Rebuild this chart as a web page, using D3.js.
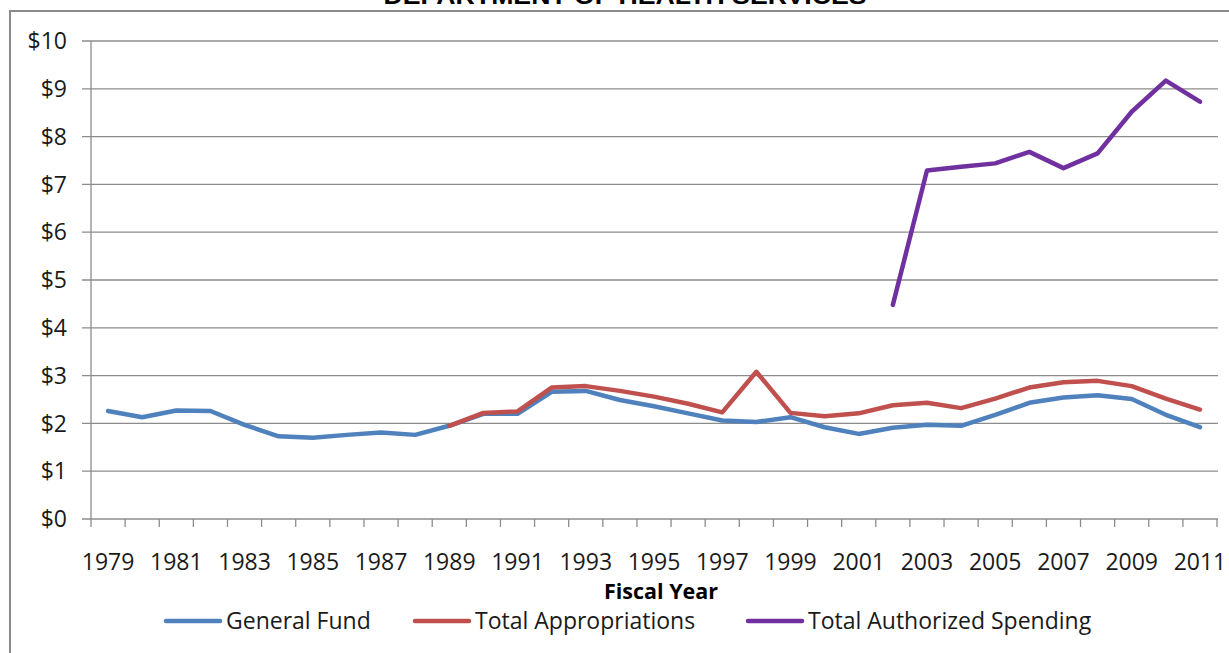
<!DOCTYPE html>
<html>
<head>
<meta charset="utf-8">
<script src="https://cdn.jsdelivr.net/npm/d3@7"></script>
<style>
  html, body { margin: 0; padding: 0; background: #fff; }
  svg { display: block; }
</style>
</head>
<body>
<svg id="chart" width="1229" height="653"></svg>
<script>
const years = d3.range(1979, 2012).map(String);
const xLabels = ["1979","1981","1983","1985","1987","1989","1991","1993","1995","1997","1999","2001","2003","2005","2007","2009","2011"];
const yTicks = [0,1,2,3,4,5,6,7,8,9,10];

const generalFund = [2.26,2.13,2.27,2.26,1.97,1.73,1.70,1.76,1.81,1.76,1.95,2.20,2.20,2.66,2.68,2.49,2.36,2.21,2.06,2.03,2.13,1.92,1.78,1.91,1.97,1.95,2.18,2.43,2.54,2.59,2.51,2.18,1.92];
const totalAppropriations = [null,null,null,null,null,null,null,null,null,null,1.95,2.22,2.25,2.75,2.78,2.68,2.56,2.41,2.23,3.08,2.22,2.15,2.21,2.38,2.43,2.32,2.52,2.75,2.86,2.89,2.78,2.52,2.29];
const totalAuthorized = [null,null,null,null,null,null,null,null,null,null,null,null,null,null,null,null,null,null,null,null,null,null,null,4.48,7.29,7.37,7.44,7.68,7.34,7.65,8.52,9.17,8.73];

const seriesNames = ["General Fund","Total Appropriations","Total Authorized Spending"];
const seriesColors = ["#4F81BD","#C0504D","#7030A0"];
const seriesValues = [generalFund, totalAppropriations, totalAuthorized];

const svg = d3.select("#chart");
const font = "'Open Sans', sans-serif";

// outer border
svg.append("rect").attr("x",10).attr("y",11).attr("width",1240).attr("height",660)
  .attr("fill","none").attr("stroke","#8a8a8a").attr("stroke-width",2);

// title (clipped by the top edge, as in the reference)
svg.append("text").attr("x",625).attr("y",4).attr("text-anchor","middle")
  .attr("font-family","'Liberation Sans', Arial, sans-serif").attr("font-weight","bold")
  .attr("font-size",23).attr("textLength",483).attr("lengthAdjust","spacingAndGlyphs")
  .attr("fill","#000").text("DEPARTMENT OF HEALTH SERVICES");

const x = d3.scaleBand().domain(years).range([91,1217]).padding(0);
const y = d3.scaleLinear().domain([0,10]).range([519,41]);
const cx = d => x(d) + x.bandwidth()/2;

// gridlines
svg.append("g").selectAll("line").data(yTicks).join("line")
  .attr("x1",82).attr("x2",x.range()[1]+1)
  .attr("y1",d=>y(d)).attr("y2",d=>y(d))
  .attr("stroke","#8c8c8c").attr("stroke-width",1.3);

// y axis line
svg.append("line").attr("x1",91).attr("x2",91).attr("y1",y(10)).attr("y2",y(0))
  .attr("stroke","#8c8c8c").attr("stroke-width",1.3);

// y labels
svg.append("g").selectAll("text").data(yTicks).join("text")
  .attr("x",67).attr("y",d=>y(d)).attr("dy","0.36em").attr("text-anchor","end")
  .attr("font-family",font).attr("font-size",23).attr("fill","#1a1a1a")
  .text(d=>"$"+d);

// x ticks at band boundaries
const bounds = years.map(d=>x(d)).concat([x.range()[1]]);
svg.append("g").selectAll("line").data(bounds).join("line")
  .attr("x1",d=>d).attr("x2",d=>d).attr("y1",y(0)).attr("y2",y(0)+8)
  .attr("stroke","#8c8c8c").attr("stroke-width",1.3);

// x labels
svg.append("g").selectAll("text").data(xLabels).join("text")
  .attr("x",d=>cx(d)).attr("y",570).attr("text-anchor","middle")
  .attr("font-family",font).attr("font-size",23).attr("fill","#1a1a1a")
  .text(d=>d);

// axis title
svg.append("text").attr("x",661).attr("y",599).attr("text-anchor","middle")
  .attr("font-family",font).attr("font-weight","bold").attr("font-size",21.5).attr("fill","#000")
  .text("Fiscal Year");

// lines
const line = d3.line().defined(d=>d.v!=null).x(d=>cx(d.year)).y(d=>y(d.v));
seriesValues.forEach((vals,i)=>{
  const data = years.map((yr,j)=>({year:yr, v:vals[j]}));
  svg.append("path").datum(data).attr("d",line)
    .attr("fill","none").attr("stroke",seriesColors[i]).attr("stroke-width",4.5)
    .attr("stroke-linejoin","round").attr("stroke-linecap","round");
});

// legend
const legendX = [166, 415, 748];
seriesNames.forEach((n,i)=>{
  const g = svg.append("g").attr("transform",`translate(${legendX[i]},621)`);
  g.append("line").attr("x1",0).attr("x2",54).attr("y1",0).attr("y2",0)
    .attr("stroke",seriesColors[i]).attr("stroke-width",4.5).attr("stroke-linecap","round");
  g.append("text").attr("x",60).attr("y",0).attr("dy","0.36em")
    .attr("font-family",font).attr("font-size",23).attr("fill","#1a1a1a").text(n);
});
</script>
</body>
</html>
